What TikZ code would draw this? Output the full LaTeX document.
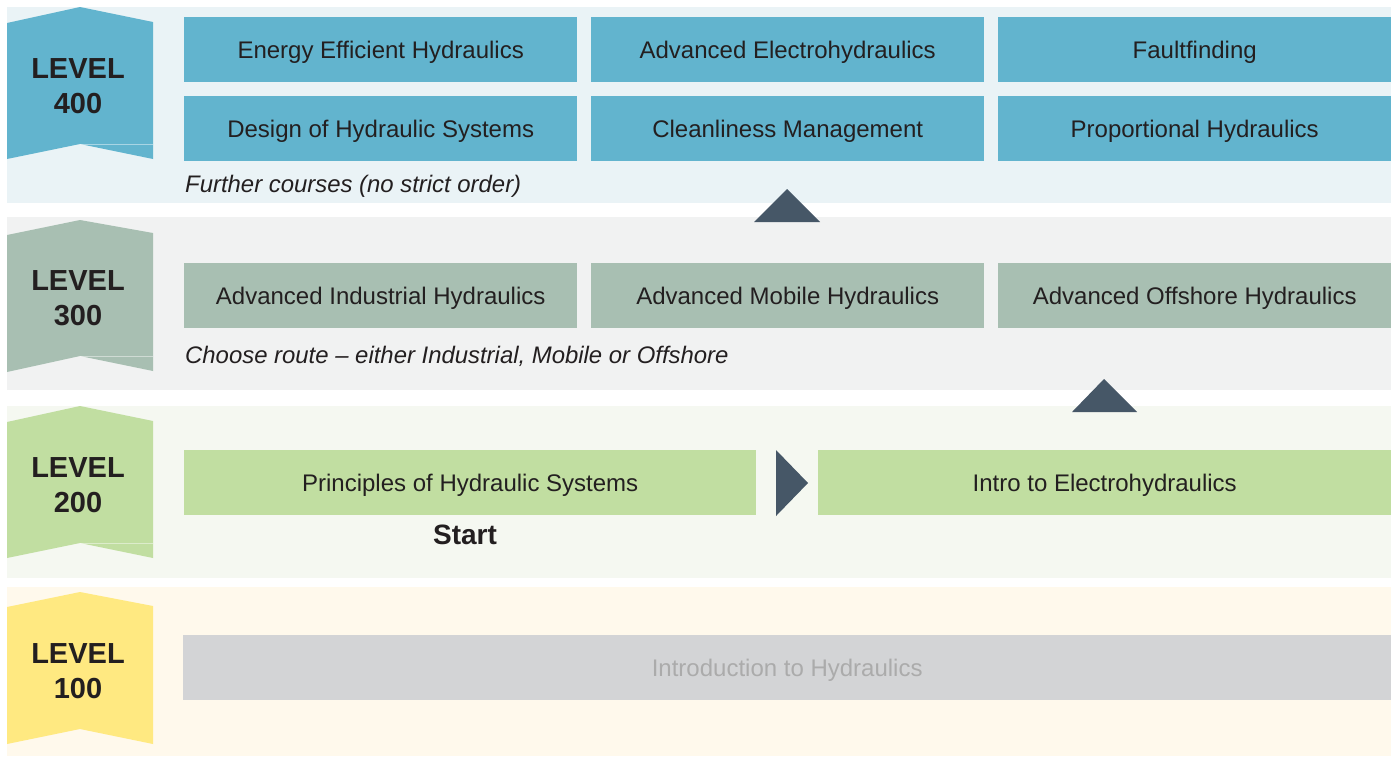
\documentclass[tikz,border=0pt]{standalone}
\usepackage{fontspec}
\setmainfont{Liberation Sans}
\definecolor{bgA}{HTML}{EAF3F6}
\definecolor{bgB}{HTML}{F1F2F2}
\definecolor{bgC}{HTML}{F5F8F1}
\definecolor{bgD}{HTML}{FFF9EC}
\definecolor{cA}{HTML}{62B4CE}
\definecolor{cB}{HTML}{A8BFB2}
\definecolor{cC}{HTML}{C1DEA1}
\definecolor{cD}{HTML}{FFE981}
\definecolor{cG}{HTML}{D3D4D6}
\definecolor{tG}{HTML}{ABABAB}
\definecolor{tri}{HTML}{465767}
\definecolor{ink}{HTML}{231F20}
\begin{document}
\begin{tikzpicture}[x=1pt,y=-1pt,
  course/.style={rectangle,anchor=north west,inner sep=0pt,minimum height=65pt,text height=20pt,text depth=2pt,text=ink,font=\fontsize{24}{28}\selectfont},
  lvl/.style={align=center,text=ink,font=\fontsize{29}{35}\selectfont\bfseries},
  note/.style={anchor=west,inner sep=0pt,text=ink,font=\fontsize{23.9}{28}\selectfont\itshape},
  fold/.style={white,opacity=0.45,line width=0.8pt}]
\useasboundingbox[fill=white] (0,0) rectangle (1391,756);
% bands
\fill[bgA] (7,7) rectangle (1391,203);
\fill[bgB] (7,217) rectangle (1391,390);
\fill[bgC] (7,406) rectangle (1391,578);
\fill[bgD] (7,587) rectangle (1391,756);
% badges
\fill[cA] (7,23) -- (80,7) -- (153,22) -- (153,159) -- (80,144) -- (7,159) -- cycle;
\draw[fold] (80,144) -- (153,144);
\fill[cB] (7,235) -- (80,220) -- (153,233) -- (153,371) -- (80,356) -- (7,372) -- cycle;
\draw[fold] (80,356) -- (153,356);
\fill[cC] (7,422) -- (80,406) -- (153,421) -- (153,558) -- (80,543) -- (7,558) -- cycle;
\draw[fold] (80,543) -- (153,543);
\fill[cD] (7,607) -- (80,592) -- (153,606) -- (153,744) -- (80,729) -- (7,744) -- cycle;
\node[lvl] (l400) at (78,86) {LEVEL\\400};
\node[lvl] (l300) at (78,298) {LEVEL\\300};
\node[lvl] (l200) at (78,485) {LEVEL\\200};
\node[lvl] (l100) at (78,671) {LEVEL\\100};
% level 400
\node[course,fill=cA,minimum width=393pt] (eeh) at (184,17) {Energy Efficient Hydraulics};
\node[course,fill=cA,minimum width=393pt] (aeh) at (591,17) {Advanced Electrohydraulics};
\node[course,fill=cA,minimum width=393pt] (ff) at (998,17) {Faultfinding};
\node[course,fill=cA,minimum width=393pt] (dhs) at (184,96) {Design of Hydraulic Systems};
\node[course,fill=cA,minimum width=393pt] (cm) at (591,96) {Cleanliness Management};
\node[course,fill=cA,minimum width=393pt] (ph) at (998,96) {Proportional Hydraulics};
\node[note] (n400) at (185,186) {Further courses (no strict order)};
% level 300
\node[course,fill=cB,minimum width=393pt] (aih) at (184,263) {Advanced Industrial Hydraulics};
\node[course,fill=cB,minimum width=393pt] (amh) at (591,263) {Advanced Mobile Hydraulics};
\node[course,fill=cB,minimum width=393pt] (aoh) at (998,263) {Advanced Offshore Hydraulics};
\node[note] (n300) at (185,356) {Choose route – either Industrial, Mobile or Offshore};
% level 200
\node[course,fill=cC,minimum width=572pt] (phs) at (184,450) {Principles of Hydraulic Systems};
\node[course,fill=cC,minimum width=573pt] (ieh) at (818,450) {Intro to Electrohydraulics};
\node[text=ink,font=\fontsize{28}{32}\selectfont\bfseries] (start) at (465,535) {Start};
% level 100
\node[course,fill=cG,minimum width=1208pt,text=tG] (ith) at (183,635) {Introduction to Hydraulics};
% markers
\fill[tri] (776,450) -- (808,483) -- (776,516) -- cycle;
\fill[tri] (754,222) -- (787,189) -- (820,222) -- cycle;
\fill[tri] (1072,412) -- (1104,379) -- (1137,412) -- cycle;
\end{tikzpicture}
\end{document}
